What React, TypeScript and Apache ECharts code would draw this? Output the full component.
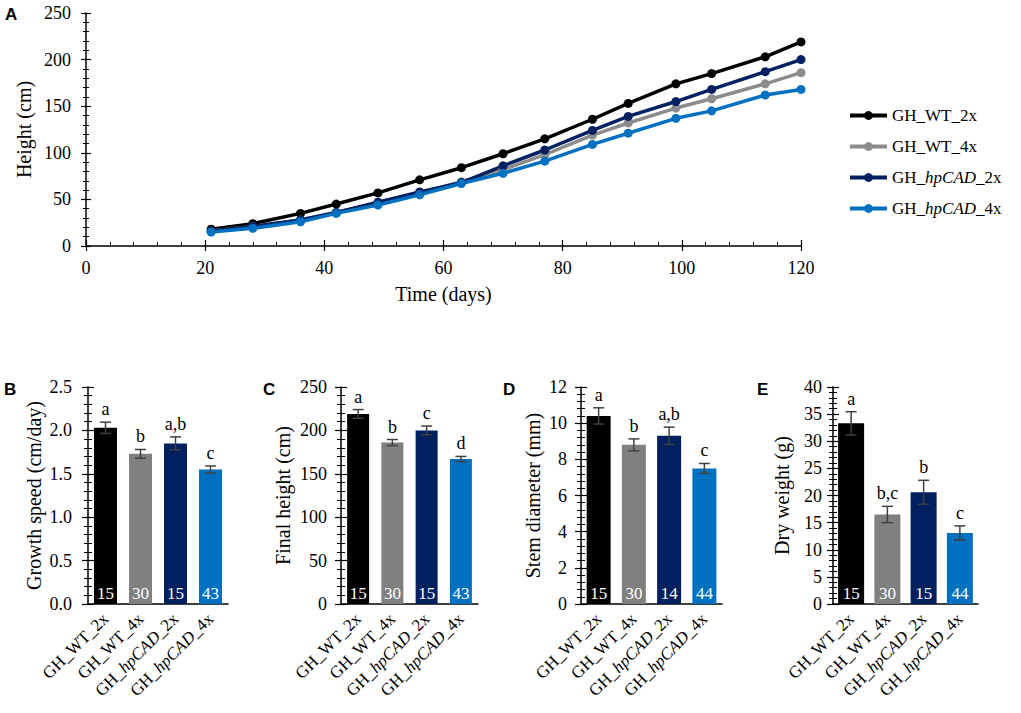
import React, { useEffect, useRef } from "react";
import * as echarts from "echarts";

const SERIF = "'Times New Roman', 'Liberation Serif', serif";
const SANS = "Arial, 'Liberation Sans', sans-serif";

// ---------- Data ----------
const groupNames = ["GH_WT_2x", "GH_WT_4x", "GH_hpCAD_2x", "GH_hpCAD_4x"];
const lineColors = ["#000000", "#8c8c8c", "#002060", "#0070c0"];
const barColors = ["#000000", "#808080", "#002060", "#0070c0"];

const days = [21, 28, 36, 42, 49, 56, 63, 70, 77, 85, 91, 99, 105, 114, 120];
const heightWT2x = [18, 24, 35, 45, 57, 71, 84, 99, 115, 136, 153, 174, 185, 203, 219];
const heightWT4x = [16, 21, 28, 36, 46, 57, 69, 82, 98, 119, 132, 148, 158, 174, 186];
const heightHp2x = [16, 21, 28, 36, 47, 58, 68, 86, 103, 124, 139, 155, 168, 187, 200];
const heightHp4x = [15, 19, 26, 35, 44, 55, 67, 78, 91, 109, 121, 137, 145, 162, 168];
const heightSeries = [heightWT2x, heightWT4x, heightHp2x, heightHp4x];

const growthMean = [2.03, 1.73, 1.85, 1.55];
const growthErr = [0.065, 0.05, 0.075, 0.04];
const growthLetters = ["a", "b", "a,b", "c"];
const growthN = [15, 30, 15, 43];

const finalMean = [219, 186, 200, 167];
const finalErr = [5, 3.5, 5, 3];
const finalLetters = ["a", "b", "c", "d"];
const finalN = [15, 30, 15, 43];

const stemMean = [10.4, 8.8, 9.3, 7.5];
const stemErr = [0.45, 0.33, 0.48, 0.27];
const stemLetters = ["a", "b", "a,b", "c"];
const stemN = [15, 30, 14, 44];

const dryMean = [33.3, 16.5, 20.6, 13.1];
const dryErr = [2.15, 1.5, 2.2, 1.3];
const dryLetters = ["a", "b,c", "b", "c"];
const dryN = [15, 30, 15, 44];

const panels = [
  { tag: "B", name: "Growth speed (cm/day)", mean: growthMean, err: growthErr, letters: growthLetters, n: growthN, max: 2.5, interval: 0.5, decimals: 1 },
  { tag: "C", name: "Final height (cm)", mean: finalMean, err: finalErr, letters: finalLetters, n: finalN, max: 250, interval: 50, decimals: 0 },
  { tag: "D", name: "Stem diameter (mm)", mean: stemMean, err: stemErr, letters: stemLetters, n: stemN, max: 12, interval: 2, decimals: 0 },
  { tag: "E", name: "Dry weight (g)", mean: dryMean, err: dryErr, letters: dryLetters, n: dryN, max: 40, interval: 5, decimals: 0 },
];

// ---------- Layout (styles) ----------
const panelLayout = [
  { left: 88, width: 140, barWidth: 23, nameGap: 44, tagX: 4, labelMargin: 16 },
  { left: 341, width: 137, barWidth: 22, nameGap: 48, tagX: 263, labelMargin: 14 },
  { left: 581, width: 141, barWidth: 24, nameGap: 38, tagX: 503, labelMargin: 14 },
  { left: 833, width: 145, barWidth: 26, nameGap: 41, tagX: 757, labelMargin: 11 },
];

const italicRich = {
  i: { fontStyle: "italic", fontFamily: SERIF, fontSize: 17, color: "#000" },
};
const fmtName = (s: string) => s.replace("hpCAD", "{i|hpCAD}");

function buildOption() {
  const grid: any[] = [{ left: 86, top: 13, width: 715, height: 233 }];
  const xAxis: any[] = [
    {
      gridIndex: 0, type: "value", min: 0, max: 120, interval: 20,
      name: "Time (days)", nameLocation: "middle", nameGap: 38,
      nameTextStyle: { fontFamily: SERIF, fontSize: 20, color: "#000" },
      axisLine: { show: true, lineStyle: { color: "#000", width: 1.5 } },
      axisTick: { show: true, inside: false, length: 5, lineStyle: { color: "#000", width: 1.2 } },
      axisLabel: { fontFamily: SERIF, fontSize: 18, color: "#000", margin: 13 },
      splitLine: { show: false },
    },
    {
      gridIndex: 0, type: "value", min: 0, max: 120, interval: 20, position: "bottom",
      axisLine: { show: false }, axisLabel: { show: false }, splitLine: { show: false },
      axisTick: { show: true, inside: true, length: 6, lineStyle: { color: "#000", width: 1.2 } },
      minorTick: { show: true, splitNumber: 5, length: 4, lineStyle: { color: "#000", width: 1 } },
    },
  ];
  const yAxis: any[] = [
    {
      gridIndex: 0, type: "value", min: 0, max: 250, interval: 50, position: "left",
      name: "Height (cm)", nameLocation: "middle", nameGap: 52, nameMoveOverlap: false,
      nameTextStyle: { fontFamily: SERIF, fontSize: 20, color: "#000" },
      axisLine: { show: true, lineStyle: { color: "#000", width: 1.5 } },
      axisTick: { show: true, inside: false, length: 5, lineStyle: { color: "#000", width: 1.2 } },
      minorTick: { show: true, splitNumber: 5, length: 3, lineStyle: { color: "#000", width: 1 } },
      axisLabel: { fontFamily: SERIF, fontSize: 18, color: "#000", margin: 15 },
      splitLine: { show: false },
    },
    {
      gridIndex: 0, type: "value", min: 0, max: 250, interval: 50, position: "left",
      axisLine: { show: false }, axisLabel: { show: false }, splitLine: { show: false },
      axisTick: { show: true, inside: true, length: 5, lineStyle: { color: "#000", width: 1.2 } },
      minorTick: { show: true, splitNumber: 5, length: 3, lineStyle: { color: "#000", width: 1 } },
    },
  ];

  const series: any[] = heightSeries.map((vals, i) => ({
    type: "line",
    name: groupNames[i],
    xAxisIndex: 0,
    yAxisIndex: 0,
    data: days.map((d, j) => [d, vals[j]]),
    symbol: "circle",
    symbolSize: 9,
    color: lineColors[i],
    lineStyle: { color: lineColors[i], width: 3.5 },
    itemStyle: { color: lineColors[i] },
  }));

  const graphic: any[] = [
    { type: "text", x: 5, y: 6, style: { text: "A", font: `bold 17px ${SANS}`, fill: "#000", verticalAlign: "top" } },
  ];

  panels.forEach((p, k) => {
    const L = panelLayout[k];
    const gi = k + 1;
    grid.push({ left: L.left, top: 387, width: L.width, height: 217 });
    const xi = xAxis.length;
    xAxis.push({
      gridIndex: gi, type: "category", data: groupNames,
      axisLine: { show: true, lineStyle: { color: "#000", width: 1.5 } },
      axisTick: { show: false },
      axisLabel: {
        interval: 0, rotate: 45, margin: 12, fontFamily: SERIF, fontSize: 17, color: "#000",
        formatter: (v: string) => fmtName(v), rich: italicRich,
      },
      splitLine: { show: false },
    });
    const yi = yAxis.length;
    yAxis.push({
      gridIndex: gi, type: "value", min: 0, max: p.max, interval: p.interval, position: "left",
      name: p.name, nameLocation: "middle", nameGap: L.nameGap, nameMoveOverlap: false,
      nameTextStyle: { fontFamily: SERIF, fontSize: 20, color: "#000" },
      axisLine: { show: true, lineStyle: { color: "#000", width: 1.5 } },
      axisTick: { show: true, inside: false, length: 6, lineStyle: { color: "#000", width: 1.2 } },
      minorTick: { show: true, splitNumber: 5, length: 4, lineStyle: { color: "#000", width: 1 } },
      axisLabel: {
        fontFamily: SERIF, fontSize: 18, color: "#000", margin: L.labelMargin,
        formatter: (v: number) => v.toFixed(p.decimals),
      },
      splitLine: { show: false },
    });
    yAxis.push({
      gridIndex: gi, type: "value", min: 0, max: p.max, interval: p.interval, position: "left",
      axisLine: { show: false }, axisLabel: { show: false }, splitLine: { show: false },
      axisTick: { show: true, inside: true, length: 6, lineStyle: { color: "#000", width: 1.2 } },
      minorTick: { show: true, splitNumber: 5, length: 4, lineStyle: { color: "#000", width: 1 } },
    });

    series.push({
      type: "bar",
      name: p.tag + "-bars",
      xAxisIndex: xi,
      yAxisIndex: yi,
      barWidth: L.barWidth,
      data: p.mean.map((m, i) => ({ value: m, itemStyle: { color: barColors[i] } })),
      label: {
        show: true, position: "insideBottom", distance: 2,
        formatter: (q: any) => String(p.n[q.dataIndex]),
        color: "#fff", fontFamily: SERIF, fontSize: 17,
      },
    });
    series.push({
      type: "custom",
      name: p.tag + "-err",
      xAxisIndex: xi,
      yAxisIndex: yi,
      z: 5,
      data: p.mean.map((m, i) => [i, m, p.err[i]]),
      encode: { x: 0, y: 1 },
      renderItem: (params: any, api: any) => {
        const idx = api.value(0);
        const mean = api.value(1);
        const e = api.value(2);
        const top = api.coord([idx, mean + e]);
        const bot = api.coord([idx, mean - e]);
        const half = 5.5;
        const st = { stroke: "#404040", lineWidth: 1.5 };
        return {
          type: "group",
          children: [
            { type: "line", shape: { x1: top[0], y1: top[1], x2: bot[0], y2: bot[1] }, style: st },
            { type: "line", shape: { x1: top[0] - half, y1: top[1], x2: top[0] + half, y2: top[1] }, style: st },
            { type: "line", shape: { x1: bot[0] - half, y1: bot[1], x2: bot[0] + half, y2: bot[1] }, style: st },
            {
              type: "text", x: top[0], y: top[1] - 4,
              style: { text: p.letters[params.dataIndex], align: "center", verticalAlign: "bottom", font: `18px ${SERIF}`, fill: "#000" },
            },
          ],
        };
      },
    });

    graphic.push({ type: "text", x: L.tagX, y: 381, style: { text: p.tag, font: `bold 17px ${SANS}`, fill: "#000", verticalAlign: "top" } });
  });

  return {
    animation: false,
    backgroundColor: "#ffffff",
    grid,
    xAxis,
    yAxis,
    series,
    graphic,
    legend: {
      data: groupNames,
      orient: "vertical",
      left: 843,
      top: 102,
      itemWidth: 37,
      itemHeight: 11,
      itemGap: 14,
      lineStyle: { width: 4 },
      formatter: (n: string) => fmtName(n),
      textStyle: { fontFamily: SERIF, fontSize: 17, color: "#000", rich: italicRich },
    },
  };
}

export default function App() {
  const ref = useRef<HTMLDivElement>(null);
  useEffect(() => {
    if (!ref.current) return;
    const chart = echarts.init(ref.current, undefined, { renderer: "svg" });
    chart.setOption(buildOption() as any);
    return () => chart.dispose();
  }, []);
  return (
    <div
      ref={ref}
      style={{ position: "absolute", left: 0, top: 0, width: 1021, height: 713, background: "#fff" }}
    />
  );
}
